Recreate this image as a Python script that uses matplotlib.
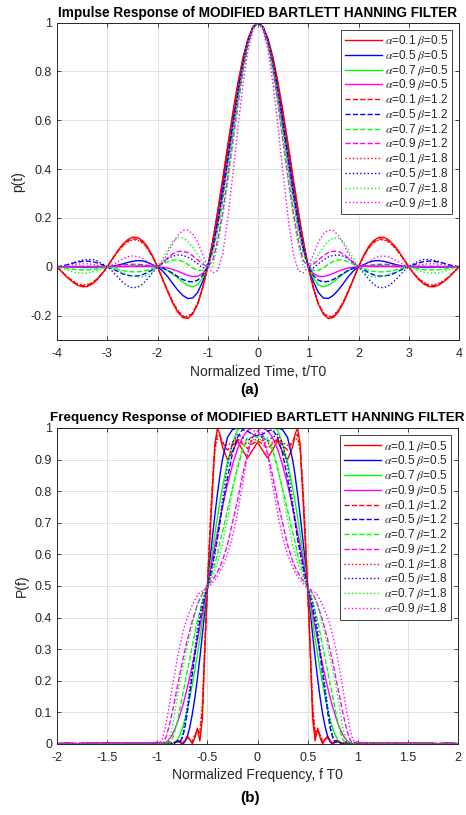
import numpy as np
import matplotlib
matplotlib.use("Agg")
import matplotlib.pyplot as plt

plt.rcParams['font.family'] = ['Liberation Sans', 'DejaVu Sans']
plt.rcParams['mathtext.fontset'] = 'stix'

# ---- data (right half only, both plots are symmetric) ----
t_half = [0.0, 0.1, 0.2, 0.3, 0.4, 0.5, 0.6, 0.7, 0.8, 0.9, 1.0,
          1.1, 1.2, 1.3, 1.4, 1.5, 1.6, 1.7, 1.8, 1.9, 2.0,
          2.1, 2.2, 2.3, 2.4, 2.5, 2.6, 2.7, 2.8, 2.9, 3.0,
          3.1, 3.2, 3.3, 3.4, 3.5, 3.6, 3.7, 3.8, 3.9, 4.0]

# impulse response, alpha = 0.1 / 0.5 / 0.7 / 0.9, beta = 0.5
p_a01_b05 = [1, 0.983, 0.933, 0.855, 0.752, 0.632, 0.5, 0.364, 0.231, 0.108, 0,
             -0.087, -0.153, -0.194, -0.212, -0.208, -0.185, -0.148, -0.101, -0.051, 0,
             0.045, 0.082, 0.107, 0.12, 0.121, 0.11, 0.09, 0.063, 0.032, 0,
             -0.029, -0.053, -0.071, -0.081, -0.082, -0.075, -0.061, -0.043, -0.022, 0]
p_a05_b05 = [1, 0.982, 0.928, 0.845, 0.735, 0.608, 0.472, 0.336, 0.208, 0.096, 0,
             -0.06, -0.105, -0.128, -0.13, -0.117, -0.095, -0.068, -0.04, -0.017, 0,
             0.008, 0.018, 0.024, 0.025, 0.022, 0.017, 0.011, 0.006, 0.002, 0,
             -0.001, -0.002, -0.003, -0.003, -0.003, -0.002, -0.002, -0.001, 0, 0]
p_a07_b05 = [1, 0.981, 0.925, 0.838, 0.724, 0.594, 0.456, 0.32, 0.196, 0.088, 0,
             -0.045, -0.074, -0.082, -0.076, -0.062, -0.045, -0.029, -0.015, -0.005, 0,
             0.002, 0.004, 0.005, 0.005, 0.004, 0.003, 0.002, 0.001, 0, 0,
             0, 0, 0, 0, 0, 0, 0, 0, 0, 0]
p_a09_b05 = [1, 0.98, 0.922, 0.832, 0.714, 0.58, 0.44, 0.305, 0.183, 0.08, 0,
             -0.027, -0.039, -0.04, -0.035, -0.027, -0.018, -0.011, -0.005, -0.002, 0,
             0.001, 0.001, 0.001, 0.001, 0.001, 0.001, 0, 0, 0, 0,
             0, 0, 0, 0, 0, 0, 0, 0, 0, 0]
# beta = 1.2
p_a01_b12 = [1, 0.982, 0.93, 0.85, 0.745, 0.625, 0.493, 0.357, 0.225, 0.104, 0,
             -0.085, -0.15, -0.19, -0.207, -0.203, -0.18, -0.144, -0.098, -0.05, 0,
             0.042, 0.077, 0.101, 0.113, 0.114, 0.104, 0.085, 0.06, 0.03, 0,
             -0.027, -0.05, -0.067, -0.076, -0.077, -0.071, -0.058, -0.041, -0.021, 0]
p_a05_b12 = [1, 0.98, 0.925, 0.835, 0.72, 0.59, 0.452, 0.316, 0.19, 0.083, 0,
             -0.035, -0.055, -0.062, -0.06, -0.052, -0.04, -0.027, -0.015, -0.006, 0,
             -0.012, -0.024, -0.033, -0.038, -0.038, -0.035, -0.028, -0.018, -0.008, 0,
             0.008, 0.016, 0.021, 0.023, 0.022, 0.019, 0.014, 0.008, 0.003, 0]
p_a07_b12 = [1, 0.978, 0.915, 0.815, 0.69, 0.55, 0.406, 0.27, 0.15, 0.055, 0,
             -0.015, -0.015, -0.005, 0.01, 0.022, 0.028, 0.027, 0.02, 0.01, 0,
             -0.007, -0.014, -0.019, -0.021, -0.021, -0.019, -0.015, -0.01, -0.004, 0,
             -0.005, -0.009, -0.012, -0.013, -0.013, -0.012, -0.01, -0.007, -0.003, 0]
p_a09_b12 = [1, 0.976, 0.908, 0.8, 0.665, 0.515, 0.365, 0.225, 0.11, 0.025, 0,
             0.01, 0.028, 0.045, 0.058, 0.064, 0.062, 0.052, 0.035, 0.016, 0,
             0.002, 0.005, 0.008, 0.01, 0.01, 0.009, 0.007, 0.004, 0.002, 0,
             0.001, 0.002, 0.002, 0.002, 0.002, 0.002, 0.001, 0.001, 0, 0]
# beta = 1.8
p_a01_b18 = [1, 0.982, 0.929, 0.848, 0.742, 0.62, 0.488, 0.352, 0.222, 0.102, 0,
             -0.084, -0.148, -0.188, -0.204, -0.2, -0.177, -0.141, -0.096, -0.049, 0,
             0.04, 0.074, 0.097, 0.109, 0.11, 0.1, 0.082, 0.058, 0.029, 0,
             -0.026, -0.048, -0.064, -0.073, -0.074, -0.068, -0.056, -0.04, -0.02, 0]
p_a05_b18 = [1, 0.979, 0.92, 0.826, 0.705, 0.57, 0.43, 0.294, 0.172, 0.07, 0,
             -0.005, 0.012, 0.028, 0.04, 0.047, 0.048, 0.043, 0.032, 0.016, 0,
             -0.025, -0.05, -0.072, -0.084, -0.086, -0.078, -0.062, -0.04, -0.018, 0,
             0.012, 0.024, 0.03, 0.03, 0.027, 0.021, 0.014, 0.007, 0.002, 0]
p_a07_b18 = [1, 0.975, 0.905, 0.795, 0.655, 0.5, 0.345, 0.205, 0.09, 0.0, 0,
             0.02, 0.05, 0.08, 0.105, 0.118, 0.118, 0.102, 0.07, 0.033, 0,
             -0.02, -0.035, -0.042, -0.042, -0.038, -0.031, -0.023, -0.014, -0.006, 0,
             -0.008, -0.016, -0.022, -0.026, -0.027, -0.025, -0.02, -0.013, -0.006, 0]
p_a09_b18 = [1, 0.97, 0.885, 0.745, 0.57, 0.38, 0.2, 0.055, -0.015, -0.025, 0,
             0.05, 0.1, 0.135, 0.15, 0.148, 0.128, 0.095, 0.055, 0.02, 0,
             0.006, 0.02, 0.034, 0.042, 0.044, 0.04, 0.031, 0.019, 0.008, 0,
             0.002, 0.006, 0.01, 0.012, 0.012, 0.01, 0.008, 0.005, 0.002, 0]

f_half = [0.0, 0.05, 0.1, 0.15, 0.2, 0.25, 0.3, 0.35, 0.375, 0.4, 0.425, 0.45, 0.475,
          0.5, 0.525, 0.55, 0.575, 0.6, 0.625, 0.65, 0.675, 0.7, 0.725, 0.75, 0.775,
          0.8, 0.825, 0.85, 0.875, 0.9, 0.925, 0.95, 0.975, 1.0,
          1.1, 1.2, 1.3, 1.4, 1.5, 1.6, 1.7, 1.8, 1.9, 2.0]

tail = [0.003, 0.003, 0.002, 0.003, 0.002, 0.002, 0.002, 0.001, 0.002, 0.001]

P_a01_b05 = [0.955, 0.93, 0.905, 0.93, 0.96, 0.925, 0.9, 0.94, 0.98, 1.0, 0.95, 0.8, 0.65,
             0.5, 0.3, 0.08, 0.01, 0.05, 0.02, 0.0, 0.015, 0.025, 0.01, 0.0, 0.01,
             0.012, 0.005, 0.0, 0.006, 0.008, 0.003, 0.0, 0.004, 0.005] + tail
P_a05_b05 = [1.0, 1.0, 1.0, 1.0, 1.0, 0.995, 0.97, 0.9, 0.85, 0.79, 0.725, 0.655, 0.578,
             0.5, 0.422, 0.345, 0.273, 0.206, 0.146, 0.095, 0.054, 0.024, 0.006, 0.0, 0.006,
             0.008, 0.004, 0.0, 0.003, 0.004, 0.002, 0.0, 0.002, 0.003] + tail
P_a07_b05 = [1.0, 1.0, 1.0, 1.0, 0.995, 0.95, 0.891, 0.811, 0.766, 0.717, 0.666, 0.611, 0.556,
             0.5, 0.444, 0.389, 0.334, 0.283, 0.234, 0.189, 0.147, 0.109, 0.077, 0.05, 0.029,
             0.013, 0.003, 0.0, 0.004, 0.005, 0.003, 0.0, 0.002, 0.003] + tail
P_a09_b05 = [1.0, 1.0, 0.992, 0.97, 0.933, 0.883, 0.821, 0.75, 0.712, 0.671, 0.629, 0.587, 0.544,
             0.5, 0.456, 0.413, 0.371, 0.329, 0.288, 0.25, 0.213, 0.179, 0.146, 0.117, 0.091,
             0.067, 0.047, 0.03, 0.017, 0.008, 0.002, 0.0, 0.003, 0.004] + tail
P_a01_b12 = [0.96, 0.95, 0.935, 0.95, 0.965, 0.945, 0.93, 0.955, 0.975, 0.98, 0.94, 0.82, 0.67,
             0.49, 0.31, 0.11, 0.03, 0.045, 0.025, 0.005, 0.015, 0.02, 0.01, 0.002, 0.008,
             0.01, 0.004, 0.001, 0.005, 0.006, 0.003, 0.001, 0.003, 0.004] + tail
P_a05_b12 = [0.975, 0.98, 0.99, 0.995, 0.97, 0.92, 0.84, 0.75, 0.7, 0.65, 0.61, 0.57, 0.535,
             0.5, 0.465, 0.43, 0.39, 0.34, 0.28, 0.22, 0.16, 0.1, 0.05, 0.02, 0.005,
             0.008, 0.004, 0.0, 0.003, 0.004, 0.002, 0.0, 0.002, 0.003] + tail
P_a07_b12 = [0.97, 0.975, 0.96, 0.93, 0.87, 0.81, 0.74, 0.67, 0.64, 0.6, 0.57, 0.545, 0.52,
             0.5, 0.475, 0.45, 0.42, 0.39, 0.35, 0.31, 0.27, 0.23, 0.19, 0.15, 0.11,
             0.07, 0.04, 0.015, 0.003, 0.006, 0.003, 0.0, 0.003, 0.004] + tail
P_a09_b12 = [0.99, 0.97, 0.92, 0.85, 0.77, 0.7, 0.63, 0.58, 0.56, 0.545, 0.53, 0.52, 0.51,
             0.5, 0.49, 0.475, 0.46, 0.44, 0.415, 0.39, 0.36, 0.33, 0.295, 0.26, 0.22,
             0.18, 0.14, 0.1, 0.065, 0.035, 0.012, 0.002, 0.006, 0.005] + tail
P_a01_b18 = [0.965, 0.96, 0.95, 0.955, 0.965, 0.955, 0.945, 0.955, 0.965, 0.965, 0.93, 0.83, 0.68,
             0.49, 0.32, 0.13, 0.04, 0.04, 0.03, 0.01, 0.015, 0.018, 0.01, 0.003, 0.008,
             0.01, 0.005, 0.002, 0.005, 0.006, 0.003, 0.001, 0.003, 0.004] + tail
P_a05_b18 = [0.98, 0.97, 0.96, 0.97, 0.98, 0.95, 0.88, 0.77, 0.71, 0.65, 0.6, 0.56, 0.52,
             0.49, 0.475, 0.45, 0.41, 0.36, 0.3, 0.24, 0.18, 0.12, 0.065, 0.025, 0.005,
             0.01, 0.005, 0.0, 0.003, 0.004, 0.002, 0.0, 0.002, 0.003] + tail
P_a07_b18 = [0.96, 0.965, 0.97, 0.94, 0.88, 0.8, 0.71, 0.63, 0.6, 0.57, 0.55, 0.53, 0.51,
             0.49, 0.485, 0.475, 0.46, 0.44, 0.41, 0.375, 0.345, 0.31, 0.27, 0.235, 0.195,
             0.15, 0.1, 0.055, 0.02, 0.005, 0.004, 0.0, 0.003, 0.004] + tail
P_a09_b18 = [1.0, 0.985, 0.915, 0.82, 0.73, 0.655, 0.6, 0.56, 0.545, 0.53, 0.52, 0.51, 0.5,
             0.49, 0.488, 0.485, 0.48, 0.47, 0.455, 0.44, 0.42, 0.4, 0.375, 0.345, 0.31,
             0.27, 0.225, 0.18, 0.13, 0.085, 0.045, 0.015, 0.005, 0.005] + tail

alphas = [0.1, 0.5, 0.7, 0.9, 0.1, 0.5, 0.7, 0.9, 0.1, 0.5, 0.7, 0.9]
betas = [0.5, 0.5, 0.5, 0.5, 1.2, 1.2, 1.2, 1.2, 1.8, 1.8, 1.8, 1.8]
impulse = [p_a01_b05, p_a05_b05, p_a07_b05, p_a09_b05,
           p_a01_b12, p_a05_b12, p_a07_b12, p_a09_b12,
           p_a01_b18, p_a05_b18, p_a07_b18, p_a09_b18]
freq = [P_a01_b05, P_a05_b05, P_a07_b05, P_a09_b05,
        P_a01_b12, P_a05_b12, P_a07_b12, P_a09_b12,
        P_a01_b18, P_a05_b18, P_a07_b18, P_a09_b18]

colors = ['#ff0000', '#0000ff', '#00ff00', '#ff00ff'] * 3
styles = ['-'] * 4 + ['--'] * 4 + [':'] * 4


def mirror(x, y):
    x = np.asarray(x, dtype=float)
    y = np.asarray(y, dtype=float)
    return np.concatenate([-x[::-1], x[1:]]), np.concatenate([y[::-1], y[1:]])


def style_axes(ax):
    ax.grid(True, color='#dcdcdc', linewidth=0.6)
    ax.set_axisbelow(True)
    ax.tick_params(direction='in', top=True, right=True, length=3,
                   labelsize=9, colors='#262626', width=0.6)
    ax.tick_params(axis='x', pad=6)
    for s in ax.spines.values():
        s.set_color('#262626')
        s.set_linewidth(0.7)


fig = plt.figure(figsize=(4.66, 8.15), dpi=100)
ax1 = fig.add_axes([57 / 466, 475 / 815, 402 / 466, 317.5 / 815])
ax2 = fig.add_axes([57 / 466, 71 / 815, 401 / 466, 316 / 815])

for a, b, y, c, ls in zip(alphas, betas, impulse, colors, styles):
    x, yy = mirror(t_half, y)
    ax1.plot(x, yy, color=c, linestyle=ls, linewidth=1.0,
             label=r'$\alpha$=%.1f $\beta$=%.1f' % (a, b))

for a, b, y, c, ls in zip(alphas, betas, freq, colors, styles):
    x, yy = mirror(f_half, y)
    ax2.plot(x, yy, color=c, linestyle=ls, linewidth=1.0,
             label=r'$\alpha$=%.1f $\beta$=%.1f' % (a, b))

ax1.set_xlim(-4, 4)
ax1.set_ylim(-0.3, 1)
ax1.set_xticks(range(-4, 5))
ax1.set_yticks([-0.2, 0, 0.2, 0.4, 0.6, 0.8, 1])
ax1.set_yticklabels(['-0.2', '0', '0.2', '0.4', '0.6', '0.8', '1'])
ax1.set_xticklabels(['-4', '-3', '-2', '-1', '0', '1', '2', '3', '4'])
ax1.set_title('Impulse Response of MODIFIED BARTLETT HANNING FILTER',
              fontsize=9.8, fontweight='bold', pad=4)
ax1.set_xlabel('Normalized Time, t/T0', fontsize=10, color='#262626', labelpad=3)
ax1.set_ylabel('p(t)', fontsize=10, color='#262626')

ax2.set_xlim(-2, 2)
ax2.set_ylim(0, 1)
ax2.set_xticks([-2, -1.5, -1, -0.5, 0, 0.5, 1, 1.5, 2])
ax2.set_xticklabels(['-2', '-1.5', '-1', '-0.5', '0', '0.5', '1', '1.5', '2'])
ax2.set_yticks(np.arange(0, 11) / 10)
ax2.set_yticklabels(['0', '0.1', '0.2', '0.3', '0.4', '0.5', '0.6', '0.7', '0.8', '0.9', '1'])
ax2.set_title('Frequency Response of MODIFIED BARTLETT HANNING FILTER',
              fontsize=9.7, fontweight='bold', pad=5)
ax2.set_xlabel('Normalized Frequency, f T0', fontsize=10, color='#262626', labelpad=3)
ax2.set_ylabel('P(f)', fontsize=10, color='#262626')

for ax in (ax1, ax2):
    style_axes(ax)
    leg = ax.legend(loc='upper right', fontsize=8.5, frameon=True, fancybox=False,
                    framealpha=1, edgecolor='#262626', handlelength=3.2,
                    labelspacing=-0.02, borderpad=0.3, handletextpad=0.2,
                    borderaxespad=0.6)
    leg.get_frame().set_linewidth(0.6)
    for txt in leg.get_texts():
        txt.set_color('#262626')

fig.text(250 / 466, 1 - 390 / 815, '(a)', ha='center', va='center',
         fontsize=11, fontweight='bold')
fig.text(250 / 466, 1 - 798 / 815, '(b)', ha='center', va='center',
         fontsize=11, fontweight='bold')

fig.savefig('out.png', dpi=100)
